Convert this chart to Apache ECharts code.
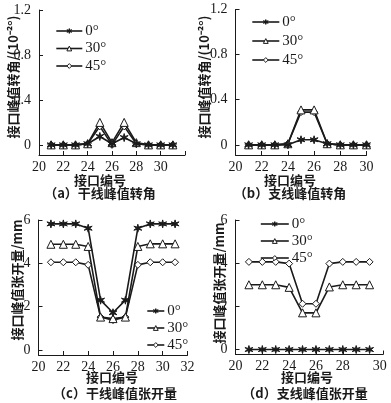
<!DOCTYPE html>
<html><head><meta charset="utf-8">
<script src="https://cdn.jsdelivr.net/npm/echarts@6/dist/echarts.min.js"></script>
<style>html,body{margin:0;padding:0;background:#fff}#c{width:391px;height:403px}</style>
</head><body><div id="c"></div>
<script>
// ---- data ----
const seriesNames = ['0°', '30°', '45°'];
const xA = [21, 22, 23, 24, 25, 26, 27, 28, 29, 30, 31];
const rotA0 = [0, 0, 0, 0.01, 0.075, 0.01, 0.065, 0.01, 0, 0, 0];
const rotA30 = [0, 0, 0, 0.01, 0.2, 0.02, 0.2, 0.02, 0, 0, 0];
const rotA45 = [0, 0, 0, 0.01, 0.165, 0, 0.165, 0.01, 0, 0, 0];
const xB = [21, 22, 23, 24, 25, 26, 27, 28, 29, 30];
const rotB0 = [0, 0, 0, 0, 0.045, 0.045, 0.01, 0, 0, 0];
const rotB30 = [0, 0, 0, 0.01, 0.31, 0.31, 0.01, 0, 0, 0];
const rotB45 = [0, 0, 0, 0.01, 0.29, 0.29, 0.01, 0, 0, 0];
const xC = [21, 22, 23, 24, 25, 26, 27, 28, 29, 30, 31];
const opnC0 = [5.82, 5.82, 5.82, 5.62, 2.3, 1.72, 2.3, 5.62, 5.82, 5.82, 5.82];
const opnC30 = [4.88, 4.88, 4.88, 4.78, 1.52, 1.45, 1.52, 4.78, 4.9, 4.9, 4.9];
const opnC45 = [4.05, 4.05, 4.05, 3.93, 1.52, 1.38, 1.52, 3.93, 4.05, 4.05, 4.05];
const xD = [21, 22, 23, 24, 25, 26, 27, 28, 29, 30];
const opnD0 = [0, 0, 0, 0, 0, 0, 0, 0, 0, 0];
const opnD30 = [3.0, 3.0, 3.0, 2.88, 1.7, 1.7, 2.9, 3.0, 3.0, 3.0];
const opnD45 = [4.06, 4.06, 4.06, 3.98, 2.12, 2.12, 3.98, 4.06, 4.06, 4.06];
const rotTicks = [0, 0.4, 0.8, 1.2];
const opnTicks = [0, 2, 4, 6];
const xLabA = [20, 22, 24, 26, 28, 30];
const xLabC = [20, 22, 24, 26, 28, 30, 32];
const xLabD = [20, 22, 24, 26, 28, 30.75];
const texts = {
  yRot: '接口峰值转角/(10⁻²°)',
  yOpn: '接口峰值张开量/mm',
  x: '接口编号',
  a: '（a）干线峰值转角',
  b: '（b）支线峰值转角',
  c: '（c）干线峰值张开量',
  d: '（d）支线峰值张开量'
};

// ---- styles ----
const INK = '#1a1a1a';
const NUMFONT = 'Liberation Serif';
const CJK = '"Noto Sans CJK SC"';
function starPath() {
  let p = [];
  for (let i = 0; i < 12; i++) {
    const r = i % 2 === 0 ? 10 : 3.2;
    const a = Math.PI / 2 + i * Math.PI / 6;
    p.push((i ? 'L' : 'M') + (10 + r * Math.cos(a)).toFixed(2) + ' ' + (10 - r * Math.sin(a)).toFixed(2));
  }
  return 'path://' + p.join(' ') + ' Z';
}
const symbols = [
  { symbol: starPath(), size: 8, fill: INK },
  { symbol: 'triangle', size: 8, fill: '#fff' },
  { symbol: 'diamond', size: 7, fill: '#fff' }
];

const grids = [
  { left: 39, top: 10, width: 146, height: 145 },
  { left: 235.5, top: 9.5, width: 131, height: 145.5 },
  { left: 38.5, top: 220, width: 149, height: 135 },
  { left: 235.5, top: 220, width: 147.5, height: 134.5 }
];

function xAxis(i, min, max, labels, ticks) {
  return {
    type: 'value', gridIndex: i, min: min, max: max,
    axisLine: { show: true, onZero: false, lineStyle: { color: INK, width: 1 } },
    axisTick: { show: true, inside: true, length: 4, customValues: ticks, lineStyle: { color: INK } },
    axisLabel: { customValues: labels, margin: 5, color: INK, fontFamily: NUMFONT, fontSize: 14,
      formatter: v => String(Math.round(v / 2) * 2) },
    splitLine: { show: false }
  };
}
function yAxis(i, min, max, labels) {
  return {
    type: 'value', gridIndex: i, min: min, max: max,
    axisLine: { show: true, onZero: false, lineStyle: { color: INK, width: 1 } },
    axisTick: { show: true, inside: true, length: 4, customValues: labels, lineStyle: { color: INK } },
    axisLabel: { customValues: labels, margin: 8, color: INK, fontFamily: NUMFONT, fontSize: 14,
      formatter: v => (v === 0 ? '0' : (Number.isInteger(v) ? String(v) : v.toFixed(1))) },
    splitLine: { show: false }
  };
}

const panels = [
  { x: xA, ys: [rotA0, rotA30, rotA45] },
  { x: xB, ys: [rotB0, rotB30, rotB45] },
  { x: xC, ys: [opnC0, opnC30, opnC45] },
  { x: xD, ys: [opnD0, opnD30, opnD45] }
];
const series = [];
panels.forEach((p, gi) => {
  p.ys.forEach((ys, si) => {
    const s = symbols[si];
    series.push({
      type: 'line', name: seriesNames[si], xAxisIndex: gi, yAxisIndex: gi,
      data: p.x.map((x, k) => [x, ys[k]]),
      symbol: s.symbol, symbolSize: s.size, showAllSymbol: true,
      lineStyle: { color: INK, width: 1.6 },
      itemStyle: { color: s.fill, borderColor: INK, borderWidth: 1 },
      emphasis: { disabled: true }, animation: false, z: 3 - si
    });
  });
});

function legend(left, top, w, gap) {
  return {
    orient: 'vertical', left: left, top: top, itemWidth: w, itemHeight: 6, itemGap: gap,
    data: seriesNames, selectedMode: false,
    lineStyle: { width: 1.6 },
    itemStyle: { borderWidth: 1 },
    textStyle: { fontFamily: NUMFONT, fontSize: 15, color: INK, padding: [0, 0, 0, -2] }
  };
}

function txt(x, y, s, rot) {
  return { type: 'text', x: x, y: y, rotation: rot || 0,
    style: { text: s, font: 'bold 13px ' + CJK, fill: INK, align: 'center', verticalAlign: 'middle' } };
}

const chart = echarts.init(document.getElementById('c'), null, { renderer: 'canvas' });
chart.setOption({
  animation: false,
  grid: grids,
  xAxis: [
    xAxis(0, 20, 32, xLabA, [22, 24, 26, 28, 30, 32]),
    xAxis(1, 20, 30, xLabA, [22, 24, 26, 28, 30]),
    xAxis(2, 20, 32, xLabC, [22, 24, 26, 28, 30, 32]),
    xAxis(3, 20, 31, xLabD, [22, 24, 26, 28, 31])
  ],
  yAxis: [
    yAxis(0, -0.09, 1.2, rotTicks),
    yAxis(1, -0.09, 1.2, rotTicks),
    yAxis(2, -0.23, 6, opnTicks),
    yAxis(3, -0.23, 6, opnTicks)
  ],
  legend: [
    legend(50.5, 18.5, 26, 2.5),
    legend(246.5, 9.5, 27, 4),
    legend(141.5, 298.5, 17, 2),
    legend(255, 211.5, 28, 2)
  ],
  series: series,
  graphic: [
    txt(13, 77, texts.yRot, Math.PI / 2),
    txt(204, 77, texts.yRot, Math.PI / 2),
    txt(17, 280, texts.yOpn, Math.PI / 2),
    txt(219, 283, texts.yOpn, Math.PI / 2),
    txt(100, 180, texts.x),
    txt(290, 180, texts.x),
    txt(112, 377, texts.x),
    txt(307, 377, texts.x),
    txt(100, 193.5, texts.a),
    txt(290, 193.5, texts.b),
    txt(115, 393, texts.c),
    txt(305, 393, texts.d)
  ]
});
</script></body></html>
